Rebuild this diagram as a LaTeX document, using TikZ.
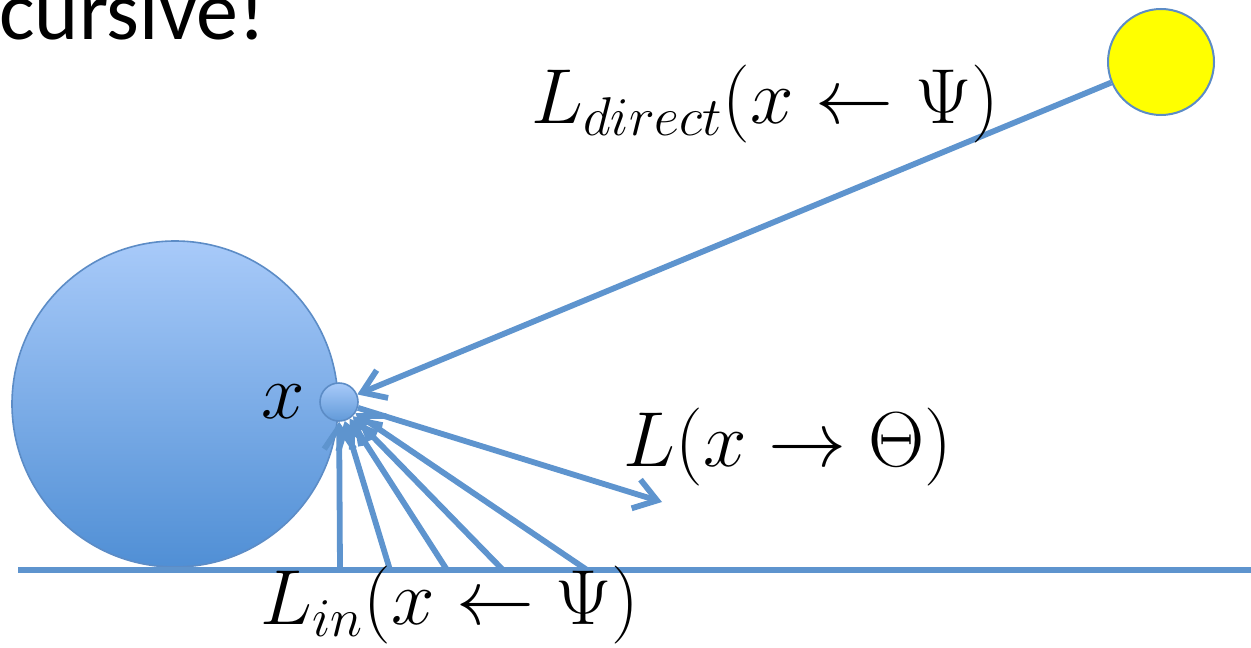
\documentclass[tikz,border=0pt]{standalone}
\usepackage{fix-cm}
\usepackage{fontspec}
\newfontfamily\titlefont{Carlito}
\usetikzlibrary{positioning, arrows.meta}

\definecolor{raycol}{RGB}{94,148,206}
\definecolor{rimcol}{RGB}{92,140,198}
\definecolor{balltop}{RGB}{168,202,249}
\definecolor{ballbot}{RGB}{80,143,213}
\definecolor{suncol}{RGB}{255,255,0}

\begin{document}
\begin{tikzpicture}[x=0.5pt, y=-0.5pt,
    ray/.style={draw=raycol, line width=2.9pt, -{Straight Barb[length=11pt,width=15pt]}},
    lbl/.style={font=\fontsize{39}{46}\selectfont, inner sep=0pt}]
\useasboundingbox (0,0) rectangle (1251,647);

\node[anchor=base west, inner sep=0pt, font=\titlefont\fontsize{42}{50}\selectfont] (title) at (-1,40) {cursive!};

% surfaces
\node[circle, inner sep=0pt, minimum size=163pt, draw=rimcol, line width=0.8pt,
      top color=balltop, bottom color=ballbot] (ball) at (175,404) {};
\coordinate (gl) at (18,570);
\coordinate (gr) at (1251,570);
\draw[raycol, line width=3pt] (gl) -- (gr);

\node[circle, inner sep=0pt, minimum size=19pt, draw=rimcol, line width=0.8pt,
      top color=balltop, bottom color=ballbot!90] (spot) at (339,402) {};
\node[circle, inner sep=0pt, minimum size=53pt, draw=rimcol, line width=1pt,
      fill=suncol] (sun) at (1161,62) {};

% rays
\draw[ray] (sun) -- (spot);
\coordinate (outend) at (662,502);
\draw[ray] (spot) -- (outend);
\foreach \n/\gx in {1/340, 2/390, 3/447, 4/503, 5/587} {
  \coordinate (g\n) at (\gx,570);
  \draw[ray] (g\n) -- (spot);
}

\node[lbl, left=7pt of spot] (xlbl) {$x$};
\node[lbl] (ldirect) at (765,104) {$L_{direct}(x \leftarrow \Psi)$};
\node[lbl] (lout) at (788,447) {$L(x \rightarrow \Theta)$};
\node[lbl] (lin) at (450,605) {$L_{in}(x \leftarrow \Psi)$};
\end{tikzpicture}
\end{document}
